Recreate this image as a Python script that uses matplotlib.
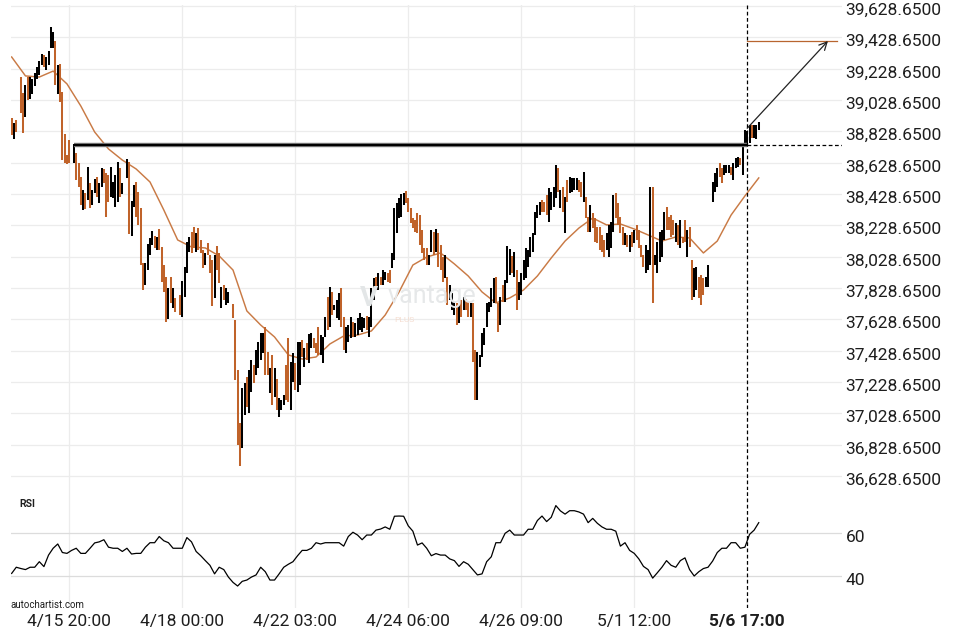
import matplotlib
matplotlib.use("Agg")
import matplotlib.pyplot as plt
import numpy as np
from matplotlib import patheffects as pe
from matplotlib.transforms import ScaledTranslation

plt.rcParams['font.family'] = ['Roboto', 'DejaVu Sans']

nan = float('nan')

# ---------------- data (hourly bars, index = bar slot) ----------------
highs = [38913, 38882, 38901, nan, 39175, 39073, 39124, 39175, 39175, 39162,
         39201, 39239, 39277, 39322, 39316, 39303, 39341, 39494, 39462, 39405,
         39252, 39258, 39079, 38811, 38677, 38773, nan, 38748, 38690, 38626,
         38537, 38454, 38435, 38601, 38499, 38454, 38524, 38537, 38499, 38594,
         38588, 38562, 38550, 38601, 38505, 38550, 38633, 38594, 38499, nan,
         38652, 38633, 38384, 38486, 38505, 38441, 38339, 37988, 37988, 38109,
         38148, 38192, 38160, 38154, 38205, 38090, 37975, 37899, 37828, 37899,
         37828, 37765, nan, 37784, 37873, 37962, 38122, 38154, 38186, 38218,
         38179, 38211, 38135, 38071, 38052, 38116, 38039, 38007, 38039, 38096,
         38052, 37835, 37847, 37828, 37803, nan, 37726, 37624, 37305, 36967,
         37190, 37222, 37260, 37305, 37369, 37337, 37433, 37484, 37541, 37541,
         37579, 37420, 37318, 37401, 37318, 37248, 37126, 37114, 37145, 37337,
         37509, 37356, 37413, 37350, 37484, 37484, 37496, 37445, 37477, 37535,
         37541, 37509, 37477, 37579, 37528, 37516, 37643, 37771, 37835, 37803,
         37720, 37752, 37796, 37828, 37643, 37579, 37592, 37643, 37611, 37605,
         37637, 37669, 37643, 37637, 37650, 37643, 37828, 37892, 37899, 37924,
         37899, 37943, 37930, 37924, 37943, 38052, 38339, 38371, 38403, 38428,
         38435, 38448, 38403, 38339, 38275, 38262, 38307, 38294, 38199, 38084,
         38084, 38039, 38199, 38186, 38205, 38179, 38103, 38026, 38039, 37899,
         37847, 37796, 37739, 37733, 37720, 37752, 37771, 37758, 37739, 37733,
         37733, 37433, 37420, 37401, 37541, 37573, 37733, 37739, 37828, 37892,
         37899, 37733, 37771, 37847, 37879, 38096, 38077, 38033, 38058, 37943,
         37867, 37924, 38007, 38084, 38071, 38154, 38179, 38314, 38358, 38377,
         38390, 38377, 38422, 38467, 38441, 38473, 38614, 38594, 38454, 38473,
         38409, 38518, 38537, 38531, 38531, 38531, 38518, 38505, 38569, 38409,
         38282, 38358, 38307, 38275, 38218, 38218, 38167, 38135, 38179, 38231,
         38250, 38422, 38435, 38371, 38282, 38218, 38179, 38167, 38167, 38186,
         38199, 38231, 38199, 38103, 38039, 38103, 38071, 38473, 38473, 38039,
         38122, 38186, 38199, 38314, 38345, 38282, 38294, 38262, 38243, 38231,
         38262, 38154, 38262, 38199, 38218, 38007, 37956, 37962, 37899, 37911,
         37892, 37899, 37975, nan, 38505, 38562, 38594, 38626, 38594, 38614,
         38614, 38614, 38601, 38626, 38658, 38665, 38658, 38754, 38837, 38830,
         38869, 38869, 38869, 38869, 38888]

lows = [38805, 38779, 38824, nan, 38945, 38818, 38920, 39028, 39035, 39067,
        39118, 39162, 39188, 39252, 39239, 39220, 39252, 39360, 39360, 39124,
        39067, 39016, 38645, 38626, 38620, 38626, nan, 38626, 38518, 38473,
        38358, 38326, 38333, 38390, 38339, 38358, 38435, 38409, 38371, 38473,
        38499, 38282, 38377, 38409, 38403, 38345, 38377, 38409, 38428, nan,
        38531, 38173, 38160, 38345, 38282, 38231, 37975, 37816, 37847, 37943,
        38039, 38103, 38084, 38071, 38071, 37867, 37803, 37611, 37630, 37733,
        37701, 37675, nan, 37656, 37643, 37771, 37924, 38058, 38052, 38084,
        38058, 38071, 38052, 37956, 37975, 38039, 37924, 37713, 37765, 37943,
        37860, 37701, 37752, 37720, 37733, nan, 37637, 37241, 36826, 36692,
        36807, 37018, 37069, 37031, 37165, 37222, 37273, 37318, 37369, 37413,
        37273, 37273, 37158, 37082, 37133, 37050, 37005, 37050, 37082, 37114,
        37101, 37050, 37228, 37177, 37165, 37209, 37388, 37324, 37369, 37350,
        37445, 37445, 37413, 37401, 37401, 37350, 37516, 37560, 37579, 37656,
        37688, 37637, 37624, 37579, 37433, 37413, 37484, 37509, 37516, 37516,
        37528, 37560, 37547, 37573, 37560, 37516, 37579, 37752, 37816, 37816,
        37847, 37847, 37879, 37867, 37860, 37956, 38007, 38179, 38275, 38282,
        38358, 38371, 38314, 38243, 38211, 38186, 38179, 38103, 38052, 38007,
        37975, 37975, 38058, 38039, 38058, 37962, 37943, 37867, 37892, 37720,
        37752, 37688, 37656, 37592, 37605, 37643, 37688, 37688, 37643, 37643,
        37356, 37114, 37114, 37324, 37388, 37465, 37579, 37675, 37707, 37733,
        37733, 37547, 37592, 37739, 37739, 37860, 37911, 37924, 37899, 37688,
        37752, 37784, 37879, 37892, 37962, 38026, 38058, 38167, 38275, 38294,
        38314, 38314, 38294, 38250, 38326, 38345, 38403, 38441, 38339, 38314,
        38179, 38377, 38435, 38441, 38454, 38454, 38441, 38409, 38377, 38275,
        38186, 38186, 38211, 38122, 38116, 38071, 38058, 38026, 38071, 38026,
        38084, 38186, 38275, 38231, 38179, 38103, 38103, 38090, 38058, 38090,
        38116, 38135, 38084, 38026, 37962, 37924, 37943, 37975, 37733, 37975,
        37924, 37994, 38026, 38135, 38199, 38199, 38154, 38167, 38122, 38103,
        38084, 38116, 38122, 38026, 38090, 37752, 37771, 37816, 37765, 37720,
        37784, 37835, 37835, nan, 38377, 38441, 38473, 38537, 38499, 38550,
        38562, 38562, 38550, 38518, 38594, 38601, 38614, 38550, 38741, 38754,
        38754, 38786, 38786, 38779, 38837]

# K = rising bar (black), O = falling bar (orange), - = no bar
directions = ("OKO-OOKOKK" "KKKKOKKKKO" "KOOOOO-KOO" "OKOKOKKOKK" "OOOKKKKOK-"
              "KOKKOOOOKK" "KKOKOOOOKO" "KO-OKKKKOO" "KOOOKOOOKO" "OKOKK-OOOO"
              "KKOKKOKKKK" "OOKOKOKKKO" "OKKOKKOKOK" "KOOOKKKOKO" "KKKOOKKKOK"
              "KKKKOKKKOK" "OKKOOKKKKK" "KOOOOOOOOO" "OKKOKOOOKO" "KKKOKOKOOK"
              "OOKKKKKKKK" "OOKOKKKOKO" "KKKKKKKKKK" "OOOKKKKOKO" "KOKKKKOOKO"
              "OKOOOOOOKK" "KKOOOOKOKO" "KOOOOKKKOK" "KKKKOOOOKO" "KOOKOOKKOO"
              "OKK-KKKOOK" "KKOKKKOKKK" "KOKKK")

# moving average, one value every 6 bars
ma_every = 6
moving_avg = [39303, 39182, 39175, 39213, 39131, 38990, 38824, 38716, 38645, 38588,
              38505, 38326, 38135, 38090, 38084, 38033, 37943, 37682, 37592, 37516,
              37401, 37375, 37388, 37471, 37522, 37528, 37554, 37656, 37803, 37975,
              38026, 38052, 37982, 37905, 37803, 37733, 37765, 37816, 37905, 38020,
              38128, 38211, 38275, 38231, 38237, 38205, 38167, 38128, 38154, 38148,
              38052, 38128, 38294, 38416, 38531]

# RSI, one value every 2 bars
rsi_every = 2
rsi = [41.2, 44.1, 43.5, 43, 44.1, 44.1, 46.7, 44.4, 49.8, 53,
       55, 51, 50.6, 52, 53, 50.6, 50.6, 53, 55.5, 56,
       57, 53.5, 53, 53, 51.5, 53, 50.3, 50.6, 50.6, 53.5,
       55.6, 55.6, 58.5, 56.5, 55.6, 53, 53, 53, 58, 56,
       51.5, 49.5, 47.2, 45, 41, 44.1, 43, 39.5, 37, 35.3,
       37.5, 38.1, 39.5, 40.5, 44.1, 42, 38.1, 38.1, 41, 44.1,
       45.5, 46.7, 49.5, 52, 52, 53, 55.6, 55, 55.6, 55.6,
       55.6, 55.6, 54, 58.5, 60.5, 59.2, 57, 59.2, 59.2, 61.5,
       62, 63, 61.9, 68, 68.1, 68, 63.5, 61, 54.5, 55.5,
       53, 49.5, 50.5, 49.8, 49.8, 48, 47.2, 44.5, 46.7, 45.5,
       43, 40.5, 41, 46.7, 49, 55.6, 55.6, 60, 61.5, 59.2,
       59.2, 59.2, 61.9, 61.9, 66, 68.1, 65.5, 67.5, 73, 70.5,
       69, 70.6, 70.6, 70, 69, 65, 67, 64.7, 63, 61.9,
       61.9, 61, 54, 55.6, 52, 50.6, 48, 44.5, 43, 39,
       41.5, 44.1, 47.2, 45, 44.1, 47.2, 48.5, 43, 40, 42,
       43.5, 44.1, 47, 51, 53, 53, 55.6, 55.6, 53, 53.5,
       59.5, 61.5, 65]

resistance_level = 38741
resistance_start = 27
breakout_bar = 319
arrow_start_price = 38848
target_price = 39405
arrow_end_bar = 354
target_end_bar = 358

tick_bars = [25, 74, 123, 172, 221, 270, 319]
tick_labels = ['4/15 20:00', '4/18 00:00', '4/22 03:00', '4/24 06:00',
               '4/26 09:00', '5/1 12:00', '5/6 17:00']
price_ticks = [36628.65, 36828.65, 37028.65, 37228.65, 37428.65, 37628.65,
               37828.65, 38028.65, 38228.65, 38428.65, 38628.65, 38828.65,
               39028.65, 39228.65, 39428.65, 39628.65]
rsi_ticks = [40, 60]

# ---------------- styling ----------------
ORANGE = '#C0632A'
MA_COL = '#C97A45'
GRID = '#ececec'
TXT = '#1e1e1e'

W, H = 960, 640
fig = plt.figure(figsize=(9.6, 6.4), dpi=100)
ax = fig.add_axes([11 / W, 1 - 490 / H, (842 - 11) / W, (490 - 5) / H])
rax = fig.add_axes([11 / W, 1 - 608 / H, (842 - 11) / W, (608 - 490) / H])

XL = (-0.28, 360.1)
for a in (ax, rax):
    a.set_xlim(*XL)
    for s in a.spines.values():
        s.set_visible(False)
    a.set_xticks(tick_bars)
    a.tick_params(length=0)
    a.set_axisbelow(True)

ax.set_ylim(36539, 39634.8)
rax.set_ylim(25.0, 80.3)

# grids
for b in tick_bars[:-1]:
    ax.axvline(b, color=GRID, lw=0.9, zorder=0)
    rax.axvline(b, color=GRID, lw=0.9, zorder=0)
for p in price_ticks:
    ax.axhline(p, color=GRID, lw=0.9, zorder=0)
for r in rsi_ticks:
    rax.axhline(r, color='#dcdcdc', lw=0.9, zorder=0)

# bars
hi = np.array(highs, dtype=float)
lo = np.array(lows, dtype=float)
idx = np.arange(len(hi))
up = np.array([c == 'K' for c in directions])
dn = np.array([c == 'O' for c in directions])
ax.vlines(idx[up], lo[up], hi[up], colors='black', lw=1.45, capstyle='butt', zorder=3)
ax.vlines(idx[dn], lo[dn], hi[dn], colors=ORANGE, lw=1.45, capstyle='butt', zorder=3)

# moving average
ax.plot(np.arange(len(moving_avg)) * ma_every, moving_avg, color=MA_COL, lw=1.05,
        zorder=2, solid_joinstyle='round')

# resistance line
ax.plot([resistance_start, breakout_bar], [resistance_level] * 2, color='black', lw=1.7,
        solid_capstyle='butt', zorder=4,
        path_effects=[pe.Stroke(linewidth=3.2, foreground='#8a8a8a'), pe.Normal()])
ax.plot([breakout_bar, XL[1]], [resistance_level] * 2, color='black', lw=0.9,
        ls=(0, (3, 2)), zorder=4)

# breakout marker
ax.axvline(breakout_bar, color='black', lw=0.9, ls=(0, (3, 2)), zorder=5)
rax.axvline(breakout_bar, color='black', lw=0.9, ls=(0, (3, 2)), zorder=5)

# projection
ax.plot([breakout_bar, target_end_bar], [target_price] * 2, color='#B8652F', lw=0.9, zorder=4)
ax.annotate('', xy=(arrow_end_bar, target_price), xytext=(breakout_bar, arrow_start_price),
            arrowprops=dict(arrowstyle='->', color='#222222', lw=0.9, mutation_scale=14,
                            shrinkA=0, shrinkB=0), zorder=6)

# RSI
rax.plot(np.arange(len(rsi)) * rsi_every, rsi, color='black', lw=0.9, zorder=3)

# ticks / labels
ax.yaxis.tick_right()
ax.set_yticks(price_ticks)
ax.set_yticklabels([f'{p:,.4f}' for p in price_ticks], fontsize=12.5, color=TXT)
ax.tick_params(axis='y', pad=2.5)
ax.set_xticklabels([])

rax.yaxis.tick_right()
rax.set_yticks(rsi_ticks)
rax.set_yticklabels([str(r) for r in rsi_ticks], fontsize=12.5, color=TXT)
rax.tick_params(axis='y', pad=2.5)
rax.set_xticklabels(tick_labels, fontsize=12.5, color=TXT)
rax.tick_params(axis='x', pad=4.5)
rax.get_xticklabels()[-1].set_fontweight('bold')

off = ScaledTranslation(0, -3 / 100, fig.dpi_scale_trans)
for lab in ax.get_yticklabels() + rax.get_yticklabels():
    lab.set_transform(lab.get_transform() + off)

# texts
fig.text(19 / W, 1 - 504 / H, 'RSI', fontsize=7.5, fontweight='bold', color=TXT, va='center')
fig.text(10 / W, 1 - 605 / H, 'autochartist.com', fontsize=7, color=TXT, va='center')

# watermark
fig.text(360 / W, 1 - 298 / H, 'V', fontsize=20, fontweight='bold', color='#e3e6e7',
         va='center', ha='left', zorder=1)
fig.text(388 / W, 1 - 296 / H, 'vantage', fontsize=18, color='#e6e8e9', va='center',
         ha='left', zorder=1)
fig.text(394 / W, 1 - 320 / H, 'PLUS', fontsize=6, color='#f5ddd0', va='center',
         ha='left', zorder=1)

fig.savefig('out.png', dpi=100)
